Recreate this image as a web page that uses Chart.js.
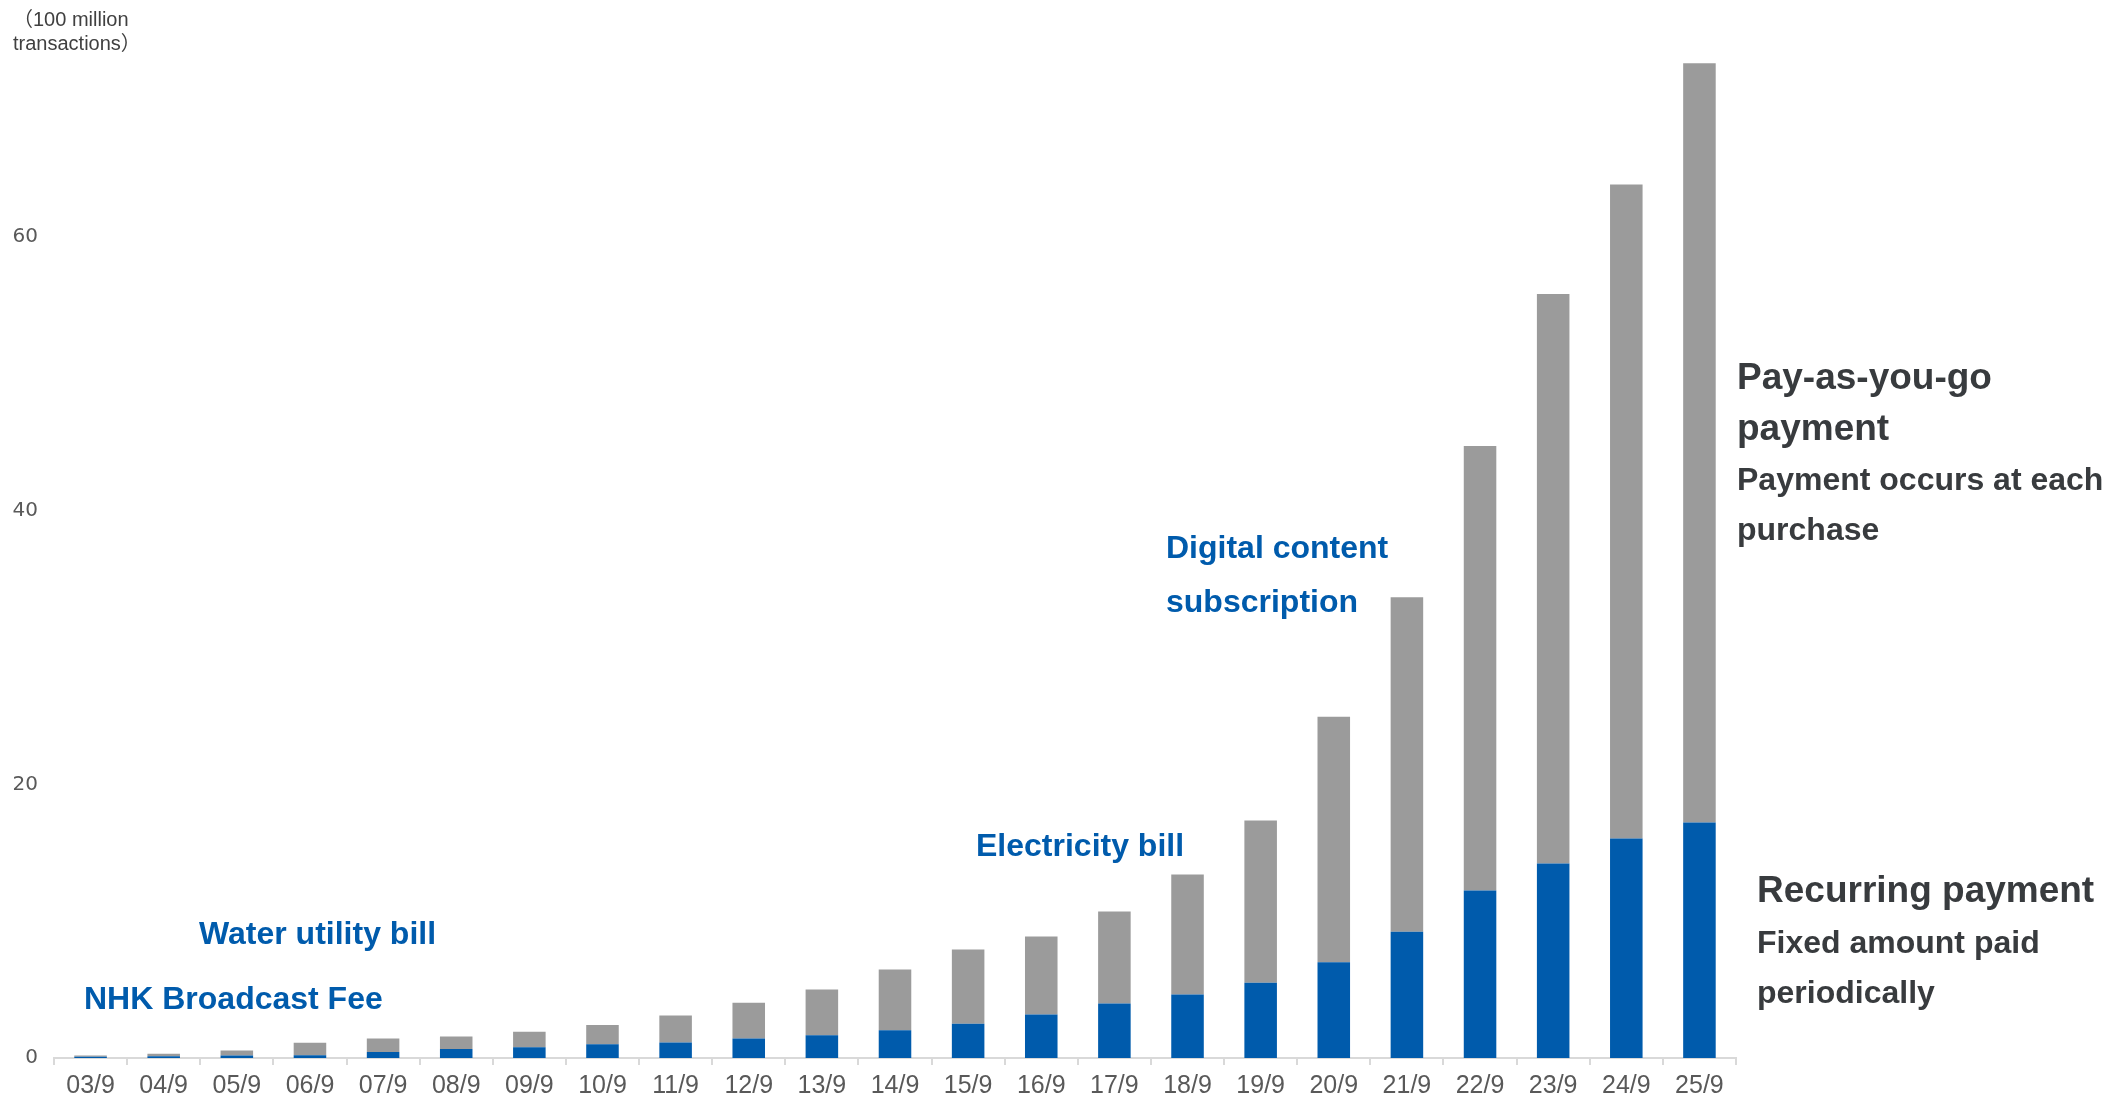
<!DOCTYPE html>
<html>
<head>
<meta charset="utf-8">
<script src="https://cdn.jsdelivr.net/npm/chart.js@4.4.0/dist/chart.umd.min.js"></script>
<style>
  body { margin: 0; background: #fff; }
  canvas { display: block; }
</style>
</head>
<body>
<canvas id="myChart" width="2123" height="1098"></canvas>
<script>
// fiscal periods (year/month)
const periods = ['03/9', '04/9', '05/9', '06/9', '07/9', '08/9', '09/9', '10/9', '11/9', '12/9',
  '13/9', '14/9', '15/9', '16/9', '17/9', '18/9', '19/9', '20/9', '21/9', '22/9', '23/9', '24/9', '25/9'];

// 100 million transactions
const recurring = [0.09, 0.13, 0.18, 0.21, 0.43, 0.65, 0.79, 1.01, 1.13, 1.43,
  1.67, 2.03, 2.50, 3.18, 3.98, 4.64, 5.50, 7.00, 9.22, 12.24, 14.22, 16.05, 17.22];
const payAsYouGo = [0.09, 0.18, 0.37, 0.90, 1.00, 0.92, 1.12, 1.41, 1.98, 2.60,
  3.34, 4.44, 5.43, 5.70, 6.73, 8.77, 11.86, 17.94, 24.46, 32.50, 41.63, 47.80, 55.50];

const yTicks = [0, 20, 40, 60];

const blue = '#005bac';
const gray = '#9b9b9b';
const dark = '#383b3e';

// text placed on the chart (pixel positions)
const notes = [
  { text: '（100 million', x: 13, y: 26, font: '20px "Liberation Sans", "Noto Sans CJK JP"', color: '#404040' },
  { text: 'transactions）', x: 13, y: 50, font: '20px "Liberation Sans", "Noto Sans CJK JP"', color: '#404040' },
  { text: 'NHK Broadcast Fee', x: 84, y: 1009, font: 'bold 32px "Liberation Sans"', color: blue },
  { text: 'Water utility bill', x: 199, y: 944, font: 'bold 32px "Liberation Sans"', color: blue },
  { text: 'Electricity bill', x: 976, y: 856, font: 'bold 32px "Liberation Sans"', color: blue },
  { text: 'Digital content', x: 1166, y: 558, font: 'bold 32px "Liberation Sans"', color: blue },
  { text: 'subscription', x: 1166, y: 612, font: 'bold 32px "Liberation Sans"', color: blue },
  { text: 'Pay-as-you-go', x: 1737, y: 389, font: 'bold 37px "Liberation Sans"', color: dark },
  { text: 'payment', x: 1737, y: 440, font: 'bold 37px "Liberation Sans"', color: dark },
  { text: 'Payment occurs at each', x: 1737, y: 490, font: 'bold 32px "Liberation Sans"', color: dark },
  { text: 'purchase', x: 1737, y: 540, font: 'bold 32px "Liberation Sans"', color: dark },
  { text: 'Recurring payment', x: 1757, y: 902, font: 'bold 37px "Liberation Sans"', color: dark },
  { text: 'Fixed amount paid', x: 1757, y: 953, font: 'bold 32px "Liberation Sans"', color: dark },
  { text: 'periodically', x: 1757, y: 1003, font: 'bold 32px "Liberation Sans"', color: dark },
];

const notesPlugin = {
  id: 'notes',
  afterDraw(chart) {
    const { ctx } = chart;
    ctx.save();
    ctx.textAlign = 'left';
    ctx.textBaseline = 'alphabetic';
    notes.forEach((n) => {
      ctx.font = n.font;
      ctx.fillStyle = n.color;
      ctx.fillText(n.text, n.x, n.y);
    });
    ctx.restore();
  },
};

const ctx = document.getElementById('myChart').getContext('2d');
const chart = new Chart(ctx, {
  type: 'bar',
  data: {
    labels: periods,
    datasets: [
      {
        label: 'Recurring payment',
        data: recurring,
        backgroundColor: blue,
        barPercentage: 0.445,
        categoryPercentage: 1,
      },
      {
        label: 'Pay-as-you-go payment',
        data: payAsYouGo,
        backgroundColor: gray,
        barPercentage: 0.445,
        categoryPercentage: 1,
      },
    ],
  },
  options: {
    responsive: false,
    animation: false,
    devicePixelRatio: 1,
    layout: { padding: { left: 0, right: 387, top: 32, bottom: 0 } },
    plugins: {
      legend: { display: false },
      tooltip: { enabled: false },
    },
    scales: {
      x: {
        stacked: true,
        grid: {
          offset: true,
          drawOnChartArea: false,
          drawTicks: true,
          tickLength: 7,
          color: '#d9d9d9',
          lineWidth: 2,
        },
        border: { color: '#d9d9d9', width: 2 },
        ticks: {
          color: '#595959',
          padding: 6,
          maxRotation: 0,
          autoSkip: false,
          font: { family: '"Liberation Sans Narrow", "Liberation Sans"', size: 25 },
        },
        afterFit(scale) { scale.height = 40; },
      },
      y: {
        stacked: true,
        min: 0,
        max: 75,
        grid: { display: false, drawTicks: false },
        border: { display: false },
        afterBuildTicks(scale) { scale.ticks = yTicks.map((v) => ({ value: v })); },
        ticks: {
          color: '#595959',
          padding: 16,
          font: { family: '"DejaVu Sans"', size: 20 },
        },
        afterFit(scale) { scale.width = 54; },
      },
    },
  },
  plugins: [notesPlugin],
});
</script>
</body>
</html>
